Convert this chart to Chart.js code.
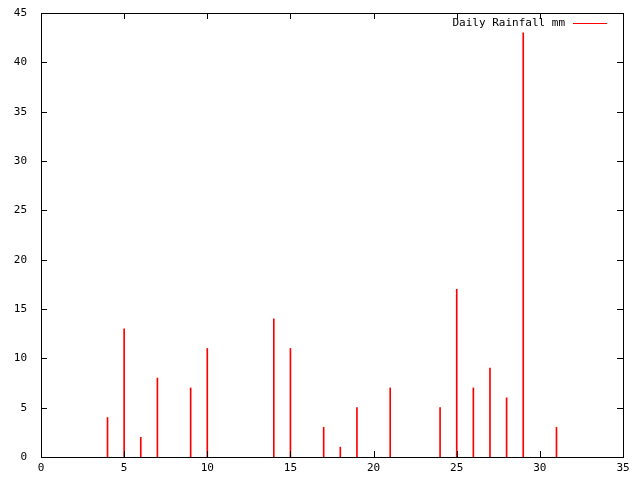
<!DOCTYPE HTML>
<html lang="en">
<head>
    <meta charset="UTF-8">
    <title>Daily Rainfall</title>
    <script src="https://cdn.jsdelivr.net/npm/chart.js"></script>
    <style>
        html, body { margin: 0; padding: 0; background: #fff; }
        canvas { display: block; }
    </style>
</head>
<body>
<canvas id="rainChart" width="640" height="480"></canvas>

<script>
    // day of month and rainfall (mm)
    const days = [4, 5, 6, 7, 9, 10, 14, 15, 17, 18, 19, 21, 24, 25, 26, 27, 28, 29, 31];
    const rainfall = [4, 13, 2, 8, 7, 11, 14, 11, 3, 1, 5, 7, 5, 17, 7, 9, 6, 43, 3];
    const seriesLabel = 'Daily Rainfall mm';
    const xTicks = [0, 5, 10, 15, 20, 25, 30, 35];
    const yTicks = [0, 5, 10, 15, 20, 25, 30, 35, 40, 45];

    const tickFont = { family: 'DejaVu Sans Mono', size: 11 };

    // gnuplot look: box border, inward ticks on all sides, legend at top right
    const gnuplotFrame = {
        id: 'gnuplotFrame',
        afterDraw(chart) {
            const ctx = chart.ctx;
            const a = chart.chartArea;
            const xs = chart.scales.x, ys = chart.scales.y;
            const len = 6;
            ctx.save();
            ctx.strokeStyle = '#000';
            ctx.lineWidth = 1;
            ctx.beginPath();
            xTicks.forEach(v => {
                const px = Math.round(xs.getPixelForValue(v)) + 0.5;
                ctx.moveTo(px, a.bottom); ctx.lineTo(px, a.bottom - len);
                ctx.moveTo(px, a.top); ctx.lineTo(px, a.top + len);
            });
            yTicks.forEach(v => {
                const py = Math.round(ys.getPixelForValue(v)) + 0.5;
                ctx.moveTo(a.left, py); ctx.lineTo(a.left + len, py);
                ctx.moveTo(a.right, py); ctx.lineTo(a.right - len, py);
            });
            ctx.stroke();
            ctx.strokeRect(Math.round(a.left) + 0.5, Math.round(a.top) + 0.5,
                Math.round(a.right - a.left), Math.round(a.bottom - a.top));

            // legend
            ctx.font = '11px "DejaVu Sans Mono"';
            ctx.fillStyle = '#000';
            ctx.textAlign = 'right';
            ctx.textBaseline = 'middle';
            ctx.fillText(chart.data.datasets[0].label, 565, 23);
            ctx.fillStyle = chart.data.datasets[0].backgroundColor;
            ctx.fillRect(573, 23, 34, 1);
            ctx.restore();
        }
    };

    new Chart(document.getElementById('rainChart'), {
        type: 'bar',
        data: {
            datasets: [{
                label: seriesLabel,
                data: days.map((d, i) => ({ x: d, y: rainfall[i] })),
                backgroundColor: '#ff0000',
                borderWidth: 0,
                barThickness: 1,
                grouped: false
            }]
        },
        options: {
            responsive: false,
            animation: false,
            layout: { padding: { top: 13, right: 17, left: 0, bottom: 0 } },
            plugins: {
                legend: { display: false },
                tooltip: { enabled: false }
            },
            scales: {
                x: {
                    type: 'linear',
                    offset: false,
                    min: 0, max: 35,
                    grid: { display: false, offset: false },
                    border: { display: false },
                    afterFit: s => { s.height = 23; },
                    afterBuildTicks: s => { s.ticks = xTicks.map(v => ({ value: v })); },
                    ticks: { color: '#000', font: tickFont, padding: -3, maxRotation: 0 }
                },
                y: {
                    min: 0, max: 45,
                    grid: { display: false },
                    border: { display: false },
                    afterFit: s => { s.width = 41; },
                    afterBuildTicks: s => { s.ticks = yTicks.map(v => ({ value: v })); },
                    ticks: { color: '#000', font: tickFont, padding: 6 }
                }
            }
        },
        plugins: [gnuplotFrame]
    });
</script>
</body>
</html>
